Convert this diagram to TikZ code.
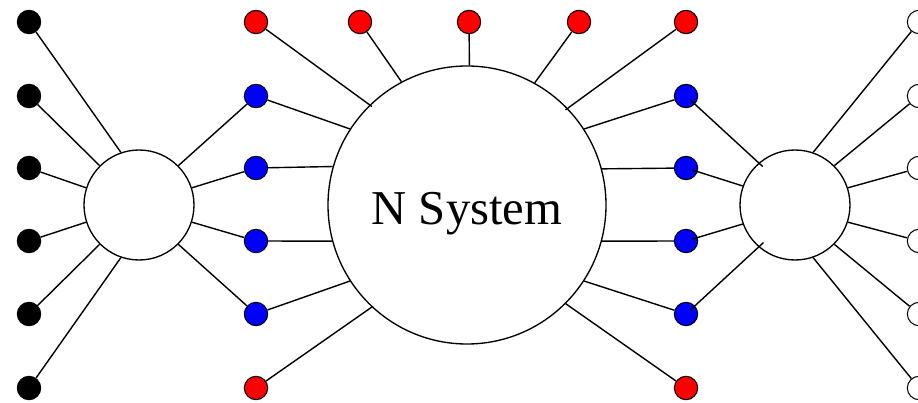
\documentclass[tikz,border=0pt]{standalone}
\usepackage{fontspec}
\setmainfont{Liberation Serif}
\usetikzlibrary{calc}
\begin{document}
\begin{tikzpicture}[x=0.75pt,y=-0.75pt,
  dot/.style={circle,draw=black,line width=0.8pt,inner sep=0pt,minimum size=17.5pt},
  blk/.style={dot,fill=black},
  redd/.style={dot,fill=red},
  blu/.style={dot,fill=blue},
  wht/.style={dot,fill=white},
  hub/.style={circle,draw=black,line width=1pt,fill=white,inner sep=0pt,minimum size=82.5pt},
  sys/.style={circle,draw=black,line width=1pt,fill=white,inner sep=0pt,minimum size=208.5pt},
  conn/.style={draw=black,line width=1.05pt}]
\useasboundingbox (0,0) rectangle (918,403);
% hubs
\node[hub] (L) at (139,205) {};
\node[sys] (S) at (467,205) {};
\node[hub] (R) at (795,205) {};
\node[anchor=base,font=\fontsize{36.5}{40}\selectfont] (txt) at (467,224) {N System};
% black and white dots
\foreach \i/\y in {1/22,2/96,3/168,4/241,5/314,6/388}{
  \node[blk] (k\i) at (29,\y) {};
  \node[wht] (w\i) at (919,\y) {};
}
% blue dots
\foreach \i/\y in {1/96,2/168,3/241,4/314}{
  \node[blu] (lb\i) at (256,\y) {};
  \node[blu] (rb\i) at (686,\y) {};
}
% red dots
\node[redd] (t1) at (256,22) {};
\node[redd] (t2) at (360,22) {};
\node[redd] (t3) at (469,22) {};
\node[redd] (t4) at (579,22) {};
\node[redd] (t5) at (686,22) {};
\node[redd] (lr) at (256,388) {};
\node[redd] (rr) at (686,388) {};
% left hub lines
\draw[conn] (k1) -- (L.109);
\draw[conn] (k2) -- (L.135);
\draw[conn] (k3) -- (L.162);
\draw[conn] (k4) -- (L.198);
\draw[conn] (k5) -- (L.225);
\draw[conn] (k6) -- (L.251);
\draw[conn] (lb1) -- (L.45);
\draw[conn] (lb2) -- (L.18);
\draw[conn] (lb3) -- (L.-18);
\draw[conn] (lb4) -- (L.-45);
% system lines
\draw[conn] (t1) -- ($(S)!0.98!(S.134)$);
\draw[conn] (t2) -- (S.118);
\draw[conn] (t3) -- (S.89);
\draw[conn] (t4) -- (S.61);
\draw[conn] (t5) -- ($(S)!0.98!(S.44)$);
\draw[conn] (lb1) -- (S.147);
\draw[conn] (lb2) -- (S.164.5);
\draw[conn] (lb3) -- (S.195.5);
\draw[conn] (lb4) -- (S.213);
\draw[conn] (lr) -- (S.227);
\draw[conn] (rb1) -- (S.33);
\draw[conn] (rb2) -- (S.15.5);
\draw[conn] (rb3) -- (S.-15.5);
\draw[conn] (rb4) -- (S.-33);
\draw[conn] (rr) -- (S.-45);
% right hub lines
\draw[conn,shorten >=4.5pt] ($(R)!0.9!(R.130)$) -- (rb1.center);
\draw[conn,shorten >=4.5pt] (R.160) -- (rb2.center);
\draw[conn,shorten >=4.5pt] (R.200) -- (rb3.center);
\draw[conn,shorten >=4.5pt] ($(R)!0.88!(R.230)$) -- (rb4.center);
\draw[conn] (w1) -- (R.71);
\draw[conn] (w2) -- (R.45);
\draw[conn] (w3) -- (R.18);
\draw[conn] (w4) -- (R.-18);
\draw[conn] (w5) -- (R.-45);
\draw[conn] (w6) -- (R.-71);
\end{tikzpicture}
\end{document}
